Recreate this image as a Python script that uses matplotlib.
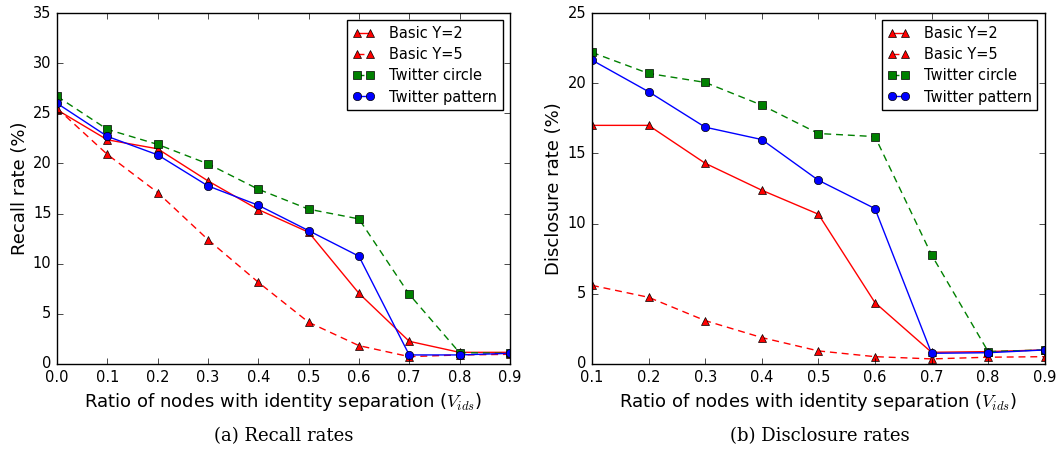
import matplotlib
matplotlib.use("Agg")
import matplotlib.pyplot as plt
import numpy as np

# recall rates (%) vs ratio of nodes with identity separation
x_recall = [0.0, 0.1, 0.2, 0.3, 0.4, 0.5, 0.6, 0.7, 0.8, 0.9]
recall_basic2 = [25.35, 22.36, 21.46, 18.26, 15.4, 13.14, 7.05, 2.26, 1.16, 1.16]
recall_basic5 = [25.5, 20.9, 17.1, 12.4, 8.15, 4.16, 1.83, 0.73, 0.9, 0.96]
recall_circle = [26.7, 23.4, 21.9, 19.96, 17.43, 15.44, 14.47, 6.95, 1.13, 1.06]
recall_pattern = [26.0, 22.7, 20.86, 17.76, 15.83, 13.3, 10.75, 0.9, 0.9, 1.06]

# disclosure rates (%)
x_disc = [0.1, 0.2, 0.3, 0.4, 0.5, 0.6, 0.7, 0.8, 0.9]
disc_basic2 = [17.0, 17.0, 14.3, 12.38, 10.67, 4.37, 0.83, 0.88, 1.0]
disc_basic5 = [5.6, 4.75, 3.09, 1.88, 0.93, 0.52, 0.36, 0.48, 0.52]
disc_circle = [22.2, 20.7, 20.06, 18.44, 16.42, 16.2, 7.77, 0.88, 1.0]
disc_pattern = [21.65, 19.4, 16.87, 15.99, 13.09, 11.07, 0.76, 0.8, 1.0]

plt.style.use('classic')
plt.rcParams['mathtext.fontset'] = 'cm'
plt.rcParams['font.family'] = 'DejaVu Sans'

fig = plt.figure(figsize=(10.58, 4.51), dpi=100, facecolor='white')
ax1 = fig.add_axes([0.0539, 0.193, 0.428, 0.778])
ax2 = fig.add_axes([0.5595, 0.193, 0.428, 0.778])

dash = (5, 3.5)

def draw(ax, x, b2, b5, circ, patt):
    ax.plot(x, b2, 'r-', marker='^', markersize=6, label='Basic Y=2')
    ax.plot(x, b5, 'r--', dashes=dash, marker='^', markersize=6, label='Basic Y=5')
    ax.plot(x, circ, 'g--', dashes=dash, marker='s', markersize=6, label='Twitter circle')
    ax.plot(x, patt, 'b-', marker='o', markersize=6, label='Twitter pattern')
    ax.set_xlabel('Ratio of nodes with identity separation ($V_{ids}$)', fontsize=13)
    ax.tick_params(labelsize=10.5)
    ax.legend(loc='upper right', fontsize=10.5, numpoints=2, handlelength=1.45,
              handletextpad=1.0, borderpad=0.4, labelspacing=0.42)

draw(ax1, x_recall, recall_basic2, recall_basic5, recall_circle, recall_pattern)
ax1.set_xlim(0.0, 0.9)
ax1.set_ylim(0, 35)
ax1.set_xticks(np.arange(0, 0.95, 0.1))
ax1.set_ylabel('Recall rate (%)', fontsize=13, labelpad=3)

draw(ax2, x_disc, disc_basic2, disc_basic5, disc_circle, disc_pattern)
ax2.set_xlim(0.1, 0.9)
ax2.set_ylim(0, 25)
ax2.set_xticks(np.arange(0.1, 0.95, 0.1))
ax2.set_ylabel('Disclosure rate (%)', fontsize=13, labelpad=3)

for ax in (ax1, ax2):
    ax.set_xticklabels(['%.1f' % t for t in ax.get_xticks()])

fig.text(0.268, 0.022, '(a) Recall rates', ha='center', fontsize=13, family='DejaVu Serif')
fig.text(0.775, 0.022, '(b) Disclosure rates', ha='center', fontsize=13, family='DejaVu Serif')

fig.savefig('out.png', dpi=100, facecolor='white')
